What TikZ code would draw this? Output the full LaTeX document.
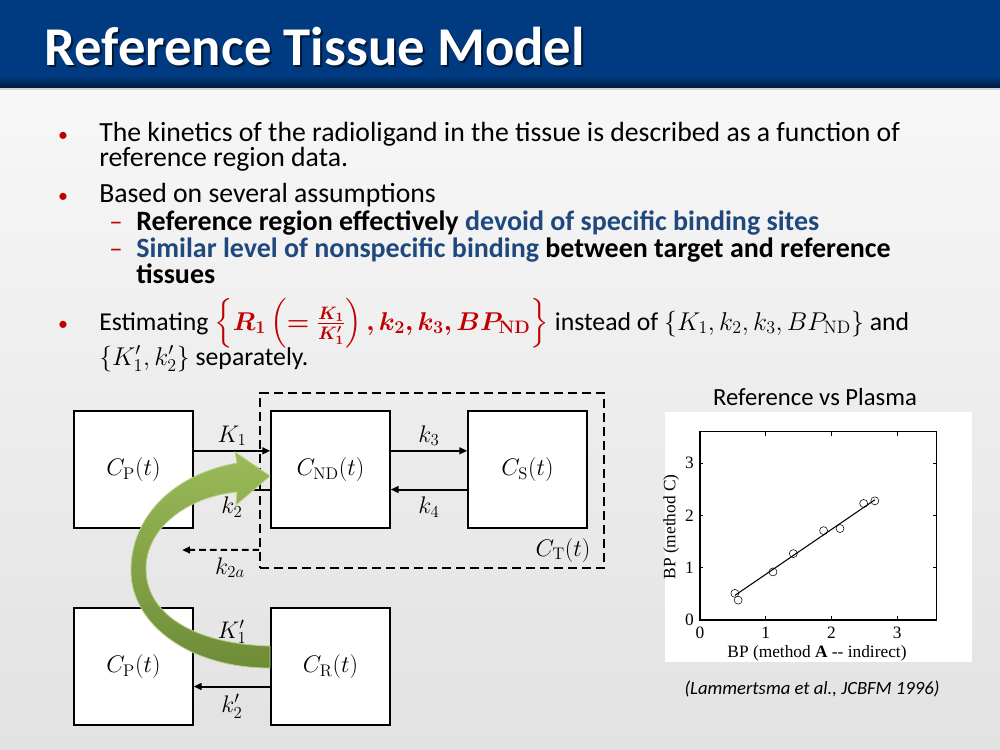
\RequirePackage{fix-cm}
\documentclass[tikz,border=0pt]{standalone}
\usepackage{amsmath,bm}
\usepackage[no-math]{fontspec}
\setmainfont{Carlito}
\newfontfamily\plotfont{Liberation Serif}
\usetikzlibrary{arrows.meta}
\definecolor{slideblue}{RGB}{0,58,128}
\definecolor{slidedark}{RGB}{0,26,62}
\definecolor{textblue}{RGB}{31,73,125}
\definecolor{bulletred}{RGB}{192,0,0}
\definecolor{arrowlight}{RGB}{155,187,89}
\definecolor{arrowdark}{RGB}{110,140,55}
\begin{document}
\begin{tikzpicture}[x=0.75pt,y=-0.75pt,
	box/.style={draw,line width=1.2pt,fill=white,minimum width=89pt,minimum height=88pt,
	font=\fontsize{18}{20}\selectfont},
	rate/.style={font=\fontsize{18}{20}\selectfont,inner sep=0},
	flow/.style={line width=1.5pt,-{Triangle[length=6pt,width=5pt]}},
	textline/.style={anchor=base west,inner sep=0,font=\fontsize{20.8}{24}\selectfont},
	mathline/.style={anchor=base west,inner sep=0,font=\fontsize{19.3}{22}\selectfont},
	subline/.style={anchor=base west,inner sep=0,font=\fontsize{21}{24}\selectfont\bfseries},
	bullet/.style={anchor=base,inner sep=0,text=bulletred,font=\fontsize{15}{16}\selectfont},
	subdash/.style={anchor=base,inner sep=0,text=bulletred,font=\fontsize{20}{24}\selectfont}]
\useasboundingbox (0,0) rectangle (1000,750);
% slide background and title bar
\shade[top color={rgb,255:red,247;green,247;blue,247},bottom color={rgb,255:red,226;green,226;blue,226}] (0,88) rectangle (1000,750);
\fill[slideblue] (0,0) rectangle (1000,76);
\shade[top color=slideblue,bottom color=slidedark] (0,76) rectangle (1000,88);
\fill[gray!35] (0,88) rectangle (1000,90);
\node[anchor=base west,text=black,opacity=0.6,font=\fontsize{41}{44}\selectfont\bfseries] (titleshadow) at (42,67) {Reference Tissue Model};
\node[anchor=base west,text=white,font=\fontsize{41}{44}\selectfont\bfseries] (title) at (40,65) {Reference Tissue Model};
% bullets
\node[bullet] (b1) at (63,141) {•};
\node[textline] (l1) at (99,141) {The kinetics of the radioligand in the tissue is described as a function of};
\node[textline] (l2) at (99,166) {reference region data.};
\node[bullet] (b2) at (63,202) {•};
\node[textline] (l3) at (99,202) {Based on several assumptions};
\node[subdash] (d1) at (116,230) {–};
\node[subline] (s1) at (136,230) {Reference region effectively \textcolor{textblue}{devoid of specific binding sites}};
\node[subdash] (d2) at (116,257) {–};
\node[subline] (s2) at (136,257) {\textcolor{textblue}{Similar level of nonspecific binding} between target and reference};
\node[subline] (s3) at (136,283) {tissues};
\node[bullet] (b3) at (63,330) {•};
\node[mathline] (l4) at (99,330) {Estimating $\color{bulletred}\left\{\bm{R_1\left(=\frac{K_1}{K_1'}\right), k_2, k_3, BP_{\mathrm{ND}}}\right\}$ instead of $\{K_1, k_2, k_3, BP_{\mathrm{ND}}\}$ and};
\node[mathline] (l5) at (99,365) {$\{K_1', k_2'\}$ separately.};
% plot
\node[fill=white,inner sep=0,minimum width=230.25pt,minimum height=187.5pt] (plotbg) at (818.5,537) {};
\node[font=\fontsize{18.5}{20}\selectfont] (ptitle) at (815,397) {Reference vs Plasma};
\node[font=\fontsize{14}{16}\selectfont\itshape] (cite) at (812,689) {(Lammertsma et al., JCBFM 1996)};
\begin{scope}[shift={(700,620)},x=49.3pt,y=39.2pt,font=\plotfont\fontsize{13}{15}\selectfont]
\draw[line width=0.8pt] (0,0) rectangle (3.6,3.6);
\foreach \t in {1,2,3} {
	\draw (\t,0) -- ++(0,0.07);
	\draw (\t,3.6) -- ++(0,-0.07);
	\draw (0,\t) -- ++(0.05,0);
	\draw (3.6,\t) -- ++(-0.05,0);
}
\foreach \t in {0,1,2,3} {
	\node (xt\t) at (\t,-0.25) {\t};
	\node (yt\t) at (-0.16,\t) {\t};
}
\node (xlab) at (1.78,-0.63) {BP (method \textbf{A} -- indirect)};
\node[rotate=90] (ylab) at (-0.44,1.78) {BP (method C)};
\foreach \a/\b in {0.53/0.51,0.58/0.38,1.11/0.92,1.42/1.27,1.88/1.71,2.13/1.75,2.49/2.23,2.66/2.28}
	\draw[fill=white] (\a,\b) circle (3pt);
\draw[line width=0.8pt] (0.53,0.47) -- (2.66,2.3);
\end{scope}
% compartments
\node[box] (cp) at (133.5,469.5) {$C_{\mathrm{P}}(t)$};
\node[box] (cnd) at (330.5,469.5) {$C_{\mathrm{ND}}(t)$};
\node[box] (cs) at (527.5,469.5) {$C_{\mathrm{S}}(t)$};
\node[draw,line width=1.2pt,dash pattern=on 7pt off 3.5pt,inner sep=0,minimum width=258pt,minimum height=131.25pt] (ct) at (432,480.5) {};
\node[rate] (ctlab) at (563,550) {$C_{\mathrm{T}}(t)$};
\draw[flow] ([yshift=14pt]cp.east) -- ([yshift=14pt]cnd.west) node[rate,midway,above=3pt] (lk1) {$K_1$};
\draw[flow] ([yshift=-15pt]cnd.west) -- ([yshift=-15pt]cp.east) node[rate,midway,below=5pt] (lk2) {$k_2$};
\draw[flow] ([yshift=14pt]cnd.east) -- ([yshift=14pt]cs.west) node[rate,midway,above=3pt] (lk3) {$k_3$};
\draw[flow] ([yshift=-15pt]cs.west) -- ([yshift=-15pt]cnd.east) node[rate,midway,below=5pt] (lk4) {$k_4$};
\coordinate (k2aend) at (182,550);
\draw[flow,dash pattern=on 5pt off 3pt] ([yshift=-52pt]ct.west) -- (k2aend) node[rate,midway,below=5pt,xshift=7pt] (lk2a) {$k_{2a}$};
\node[box] (cpr) at (133.5,666.5) {$C_{\mathrm{P}}(t)$};
\node[box] (cr) at (330.5,666.5) {$C_{\mathrm{R}}(t)$};
\node[rate] (lk1p) at (232,632) {$K_1'$};
\draw[flow] ([yshift=-15pt]cr.west) -- ([yshift=-15pt]cpr.east) node[rate,midway,below=5pt] (lk2p) {$k_2'$};
% curved green arrow
\shade[top color=arrowlight,bottom color=arrowdark,draw=arrowlight!70!white,line width=0.6pt]
	(270,646) .. controls (195,644) and (147,615) .. (146,570)
	.. controls (145,530) and (185,497) .. (237,492)
	-- (236,505) -- (270,476) -- (235,452) -- (237,463)
	.. controls (170,475) and (130,520) .. (131,572)
	.. controls (132,625) and (190,668) .. (270,668) -- cycle;
\end{tikzpicture}
\end{document}
